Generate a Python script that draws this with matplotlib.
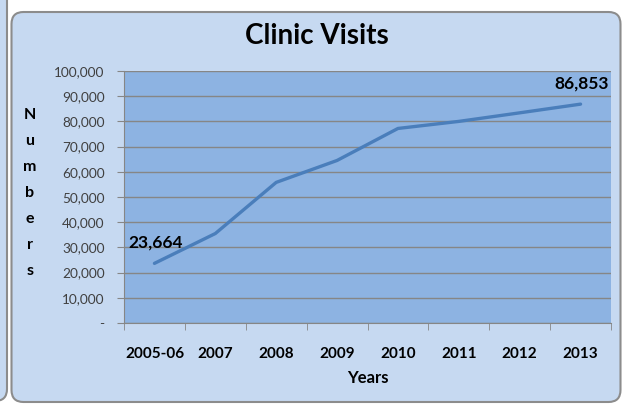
import numpy as np
import matplotlib.pyplot as plt
from matplotlib.patches import FancyBboxPatch

plt.rcParams['font.family'] = ['Lato', 'DejaVu Sans']

years = ['2005-06', '2007', '2008', '2009', '2010', '2011', '2012', '2013']
visits = [23664, 35500, 55800, 64500, 77200, 80000, 83400, 86853]
y_ticks = [0, 10000, 20000, 30000, 40000, 50000, 60000, 70000, 80000, 90000, 100000]
y_labels = ['-'] + ['{:,}'.format(v) for v in y_ticks[1:]]

W, H = 624, 404
fig = plt.figure(figsize=(W / 100, H / 100), dpi=100)
fig.patch.set_facecolor('white')

frame_bg = '#c6d9f1'
frame_edge = '#8c8c8c'
# neighbouring chart frame on the left (only its edge shows)
fig.patches.append(FancyBboxPatch((-0.6, 0.03), 0.67, 4.2, boxstyle='round,pad=0,rounding_size=0.12',
                                  transform=fig.dpi_scale_trans, facecolor=frame_bg,
                                  edgecolor=frame_edge, lw=1.5, zorder=-2))
# main chart frame
fig.patches.append(FancyBboxPatch((0.115, 0.02), 6.09, 3.9, boxstyle='round,pad=0,rounding_size=0.12',
                                  transform=fig.dpi_scale_trans, facecolor=frame_bg,
                                  edgecolor=frame_edge, lw=1.5, zorder=-2))

ax = fig.add_axes([124 / W, 1 - 323 / H, (611 - 124) / W, (323 - 71) / H])
ax.set_facecolor('#8db3e2')

x = np.arange(len(years))
ax.plot(x, visits, color='#4a7ebb', lw=2.4, solid_capstyle='round', zorder=3)

ax.set_xlim(-0.5, len(years) - 0.5)
ax.set_ylim(0, 100000)
ax.set_yticks(y_ticks)
ax.set_yticklabels(y_labels, fontsize=9.8, color='#404040')
ax.yaxis.grid(True, color='#868686', lw=1)
ax.set_axisbelow(True)

ax.set_xticks(x)
ax.set_xticklabels(years, fontsize=11, fontweight='bold')
ax.set_xticks(np.arange(len(years) + 1) - 0.5, minor=True)
ax.tick_params(axis='x', which='major', length=0, pad=17)
ax.tick_params(axis='x', which='minor', length=5, color='#868686')
ax.tick_params(axis='y', length=5, color='#868686', pad=9)

for s in ['top', 'right']:
    ax.spines[s].set_visible(False)
for s in ['left', 'bottom']:
    ax.spines[s].set_color('#868686')

ax.set_xlabel('Years', fontsize=12, fontweight='bold', labelpad=7)

ax.annotate('{:,}'.format(visits[0]), (x[0], visits[0]), xytext=(1, 15), textcoords='offset points',
            ha='center', va='center', fontsize=12.5, fontweight='bold')
ax.annotate('{:,}'.format(visits[-1]), (x[-1], visits[-1]), xytext=(1, 15), textcoords='offset points',
            ha='center', va='center', fontsize=12.5, fontweight='bold')

fig.text(317 / W, 1 - 36 / H, 'Clinic Visits', ha='center', va='center', fontsize=20, fontweight='bold')
fig.text(30 / W, 1 - 193 / H, '\n'.join('Numbers'), ha='center', va='center', fontsize=11.5,
         fontweight='bold', linespacing=2.1)

fig.savefig('out.png', dpi=100)
